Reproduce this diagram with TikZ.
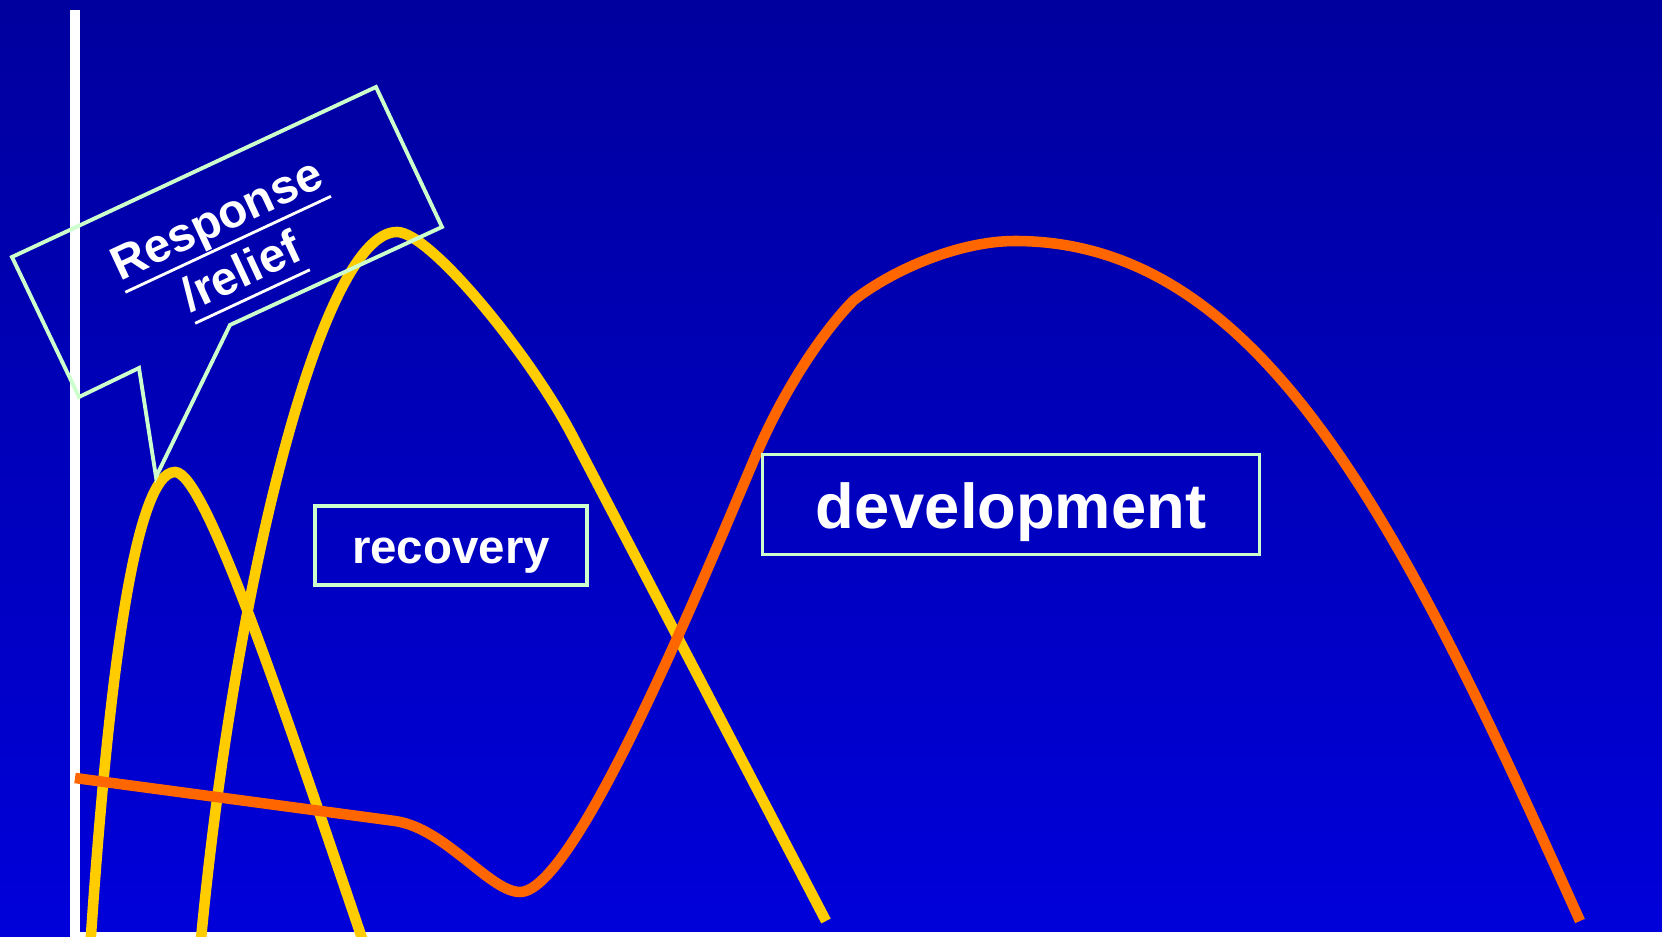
\documentclass[tikz,border=0pt]{standalone}
\usepackage{fontspec}
\setmainfont{Liberation Sans}
\definecolor{bgtop}{RGB}{0,0,158}
\definecolor{bgbot}{RGB}{0,0,218}
\definecolor{gold}{RGB}{255,204,0}
\definecolor{flame}{RGB}{255,102,0}
\definecolor{mint}{RGB}{204,255,204}
\newcommand{\undl}[1]{\setbox0=\hbox{#1}\rlap{\rule[-0.28em]{\wd0}{0.06em}}\box0}
\begin{document}
\begin{tikzpicture}[x=0.01cm,y=-0.01cm,
  curve/.style={line width=3pt},
  frame/.style={draw=mint,line width=1pt,inner sep=0pt,text=white}]
\useasboundingbox (0,0) rectangle (1662,937);
\shade[top color=bgtop,bottom color=bgbot] (0,0) rectangle (1662,937);
\draw[white,line width=3.1pt] (75,10) -- (75,937);
\draw[white,line width=2.8pt] (70,937) -- (1670,937);
\draw[gold,curve] (90,950) .. controls (108,680) and (135,472) .. (175,472)
  .. controls (205,472) and (281,700) .. (366,950);
\draw[gold,curve] (200,950) .. controls (232,600) and (320,232) .. (397,232)
  .. controls (430,232) and (530,355) .. (572,435) -- (826,921);
\draw[flame,curve] (75,778) -- (395,821) .. controls (445,828) and (490,892) .. (520,892)
  .. controls (575,892) and (700,587) .. (756,455)
  .. controls (786,385) and (826,328) .. (854,300)
  .. controls (894,269) and (960,241) .. (1015,241)
  .. controls (1260,241) and (1400,520) .. (1580,921);
\draw[mint,line width=1.1pt] (12,257) -- (376,87) -- (442,227) -- (230,325) -- (156,477) -- (139,368) -- (79,397) -- cycle;
\node[text=white,font=\fontsize{13.5pt}{16.4pt}\selectfont\bfseries,align=center,rotate=25,anchor=base] (resp) at (247.5,285.8) {\undl{Response}\\\undl{/relief}};
\node[frame,minimum width=2.72cm,text height=16.3pt,text depth=6.2pt,font=\fontsize{13.5pt}{16pt}\selectfont\bfseries] (rec) at (451,545.5) {recovery};
\node[frame,minimum width=4.97cm,text height=20.9pt,text depth=7.5pt,font=\fontsize{18pt}{21pt}\selectfont\bfseries] (dev) at (1011,504.5) {development};
\end{tikzpicture}
\end{document}
